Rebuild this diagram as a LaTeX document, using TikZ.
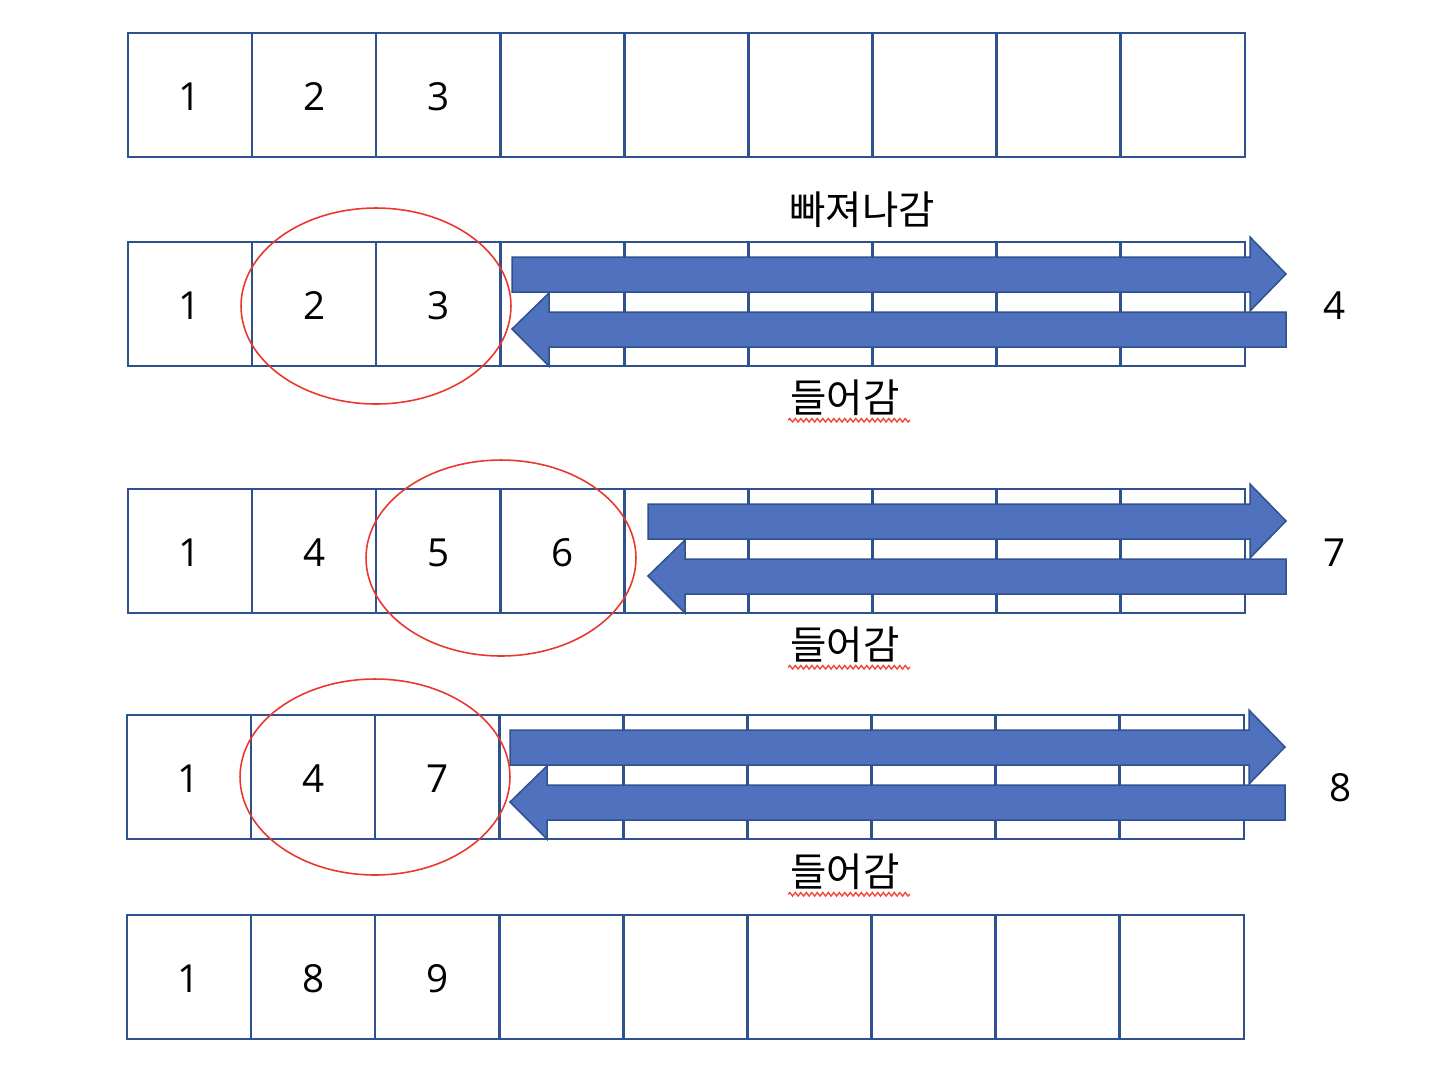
\documentclass[tikz,border=0pt]{standalone}
\usepackage{fontspec}
\setmainfont{Open Sans}
\newfontfamily\korfont{Noto Sans CJK KR}
\usepackage{tikz}
\usetikzlibrary{decorations.pathmorphing}
\definecolor{qline}{HTML}{2F528F}
\definecolor{qfill}{HTML}{4F71BE}
\definecolor{qred}{HTML}{E8372C}
\definecolor{qwavered}{HTML}{F04A3A}
\tikzset{
  qcell/.style={draw=qline,line width=1.4pt,minimum width=2.48cm,
                minimum height=2.48cm,inner sep=0pt},
  qnum/.style={font=\fontsize{22}{26}\selectfont,inner sep=0pt,yshift=-1pt},
  qword/.style={font=\korfont\fontsize{22.5}{26}\selectfont,inner sep=0pt},
  qblock/.style={draw=qline,line width=0.85pt,fill=qfill,line join=miter},
  qcircle/.style={draw=qred,line width=0.9pt},
  qwave/.style={draw=qwavered,line width=0.8pt,decorate,
                decoration={snake,amplitude=0.035cm,segment length=0.11cm}}
}

\begin{document}
\begin{tikzpicture}[x=0.02cm,y=-0.02cm]
  \useasboundingbox (0,0) rectangle (1454,1076);
  % queue cells
  \foreach \r/\y/\xo in {1/95/190,2/304/190,3/551/190,4/777/189,5/977/189}
    \foreach \c in {1,...,9}
      \node[qcell] (q\r-\c) at ({\xo+124.1*(\c-1)},\y) {};
  \foreach \r/\vals in {1/{1,2,3},2/{1,2,3},3/{1,4,5,6},4/{1,4,7},5/{1,8,9}}
    \foreach \v [count=\c] in \vals
      \node[qnum] at (q\r-\c) {\v};

  % block arrows out and back in
  \foreach \t/\l/\rr in {242/512/1286,489/648/1286,715/510/1285} {
    \draw[qblock] (\l,\t+15) -- (\rr-36,\t+15) -- (\rr-36,\t-5) -- (\rr,\t+32)
      -- (\rr-36,\t+69) -- (\rr-36,\t+50) -- (\l,\t+50) -- cycle;
    \draw[qblock] (\rr,\t+70) -- (\l+37,\t+70) -- (\l+37,\t+51) -- (\l,\t+87)
      -- (\l+37,\t+124) -- (\l+37,\t+105) -- (\rr,\t+105) -- cycle;
  }

  \draw[qcircle] (376,306) ellipse [x radius=2.7cm,y radius=1.96cm];
  \draw[qcircle] (501,558) ellipse [x radius=2.7cm,y radius=1.96cm];
  \draw[qcircle] (375,777) ellipse [x radius=2.7cm,y radius=1.96cm];

  \node[qword] (out) at (862,210) {빠져나감};
  \node[qword] (in2) at (845,398) {들어감};
  \node[qword] (in3) at (845,645) {들어감};
  \node[qword] (in4) at (845,872) {들어감};
  \foreach \n in {in2,in3,in4}
    \draw[qwave] ([xshift=-0.04cm,yshift=-0.08cm]\n.south west)
      -- ([xshift=0.2cm,yshift=-0.08cm]\n.south east);

  \node[qnum] (n4) at (1335,304) {4};
  \node[qnum] (n7) at (1335,551) {7};
  \node[qnum] (n8) at (1341,786) {8};
\end{tikzpicture}
\end{document}
